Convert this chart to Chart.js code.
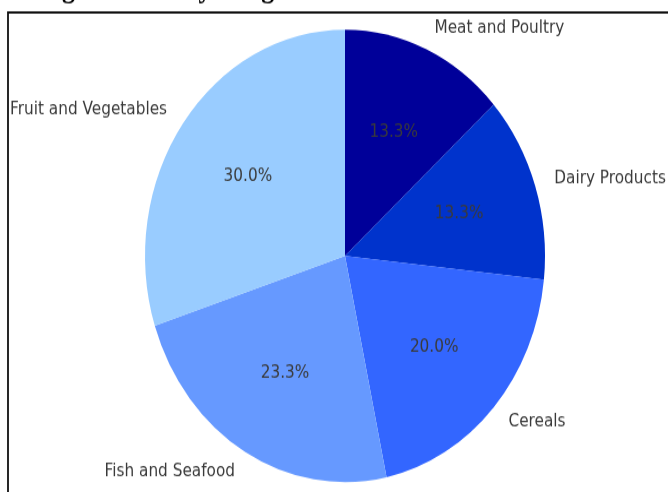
<!DOCTYPE html>
<html>
<head>
<meta charset="utf-8">
<script src="https://cdn.jsdelivr.net/npm/chart.js@4.4.1/dist/chart.umd.min.js"></script>
<style>
  html, body { margin: 0; padding: 0; background: #fff; overflow: hidden; }
  /* the figure is drawn short and stretched to the window height */
  .chart-wrap {
    position: absolute; left: 0; top: 0;
    width: 668px; height: 435px;
    transform: scaleY(1.131); transform-origin: 0 0;
  }
</style>
</head>
<body>
<div class="chart-wrap"><canvas id="pie"></canvas></div>
<script>
const categories = ['Meat and Poultry', 'Dairy Products', 'Cereals', 'Fish and Seafood', 'Fruit and Vegetables'];
const counts = [4, 4, 6, 7, 9];
const sliceColors = ['#000099', '#0033cc', '#3366ff', '#6699ff', '#99ccff'];
const titleText = 'Percentage of Food by Weight';

const labelFont = '15.3px "DejaVu Sans"';
const textColor = '#3a3a3a';

// slice labels: percentage inside, category name outside
const sliceLabels = {
  id: 'sliceLabels',
  afterDatasetsDraw(chart) {
    const ctx = chart.ctx;
    const meta = chart.getDatasetMeta(0);
    const data = chart.data.datasets[0].data;
    const total = data.reduce((a, b) => a + b, 0);
    ctx.save();
    ctx.font = labelFont;
    ctx.fillStyle = textColor;
    ctx.textBaseline = 'middle';
    meta.data.forEach((arc, i) => {
      const p = arc.getProps(['x', 'y', 'startAngle', 'endAngle', 'outerRadius'], true);
      const mid = (p.startAngle + p.endAngle) / 2;
      const cx = Math.cos(mid), cy = Math.sin(mid);
      const pct = (data[i] / total * 100).toFixed(1) + '%';
      ctx.textAlign = 'center';
      ctx.fillText(pct, p.x + cx * p.outerRadius * 0.6, p.y + cy * p.outerRadius * 0.6);
      ctx.textAlign = cx >= 0 ? 'left' : 'right';
      ctx.fillText(chart.data.labels[i], p.x + cx * p.outerRadius * 1.1, p.y + cy * p.outerRadius * 1.1);
    });
    ctx.restore();
  }
};

// title above the frame (cut off by the window top) and the frame lines
const frame = {
  id: 'frame',
  beforeDraw(chart) {
    const ctx = chart.ctx;
    ctx.save();
    ctx.font = 'bold 26px "Liberation Serif"';
    ctx.fillStyle = '#000';
    ctx.textBaseline = 'alphabetic';
    const lead = ctx.measureText('Percenta').width;
    ctx.fillText(titleText, 62 - lead, -2.5);
    ctx.strokeStyle = '#111';
    ctx.lineWidth = 1.8;
    ctx.beginPath();
    ctx.moveTo(8, chart.height + 5);
    ctx.lineTo(8, 11);
    ctx.lineTo(chart.width + 5, 11);
    ctx.stroke();
    ctx.restore();
  }
};

new Chart(document.getElementById('pie').getContext('2d'), {
  type: 'pie',
  data: {
    labels: categories,
    datasets: [{
      data: counts,
      backgroundColor: sliceColors,
      borderWidth: 0
    }]
  },
  options: {
    responsive: true,
    maintainAspectRatio: false,
    animation: false,
    layout: { padding: { left: 145, right: 123, top: 26.3, bottom: 8.7 } },
    plugins: {
      legend: { display: false },
      tooltip: { enabled: false }
    }
  },
  plugins: [frame, sliceLabels]
});
</script>
</body>
</html>
